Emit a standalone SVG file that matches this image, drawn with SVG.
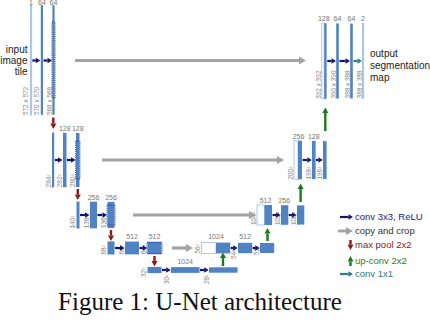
<svg xmlns="http://www.w3.org/2000/svg" width="430" height="320" viewBox="0 0 430 320">
<defs>
<style>
.b{fill:#4f83c4;}
.w{fill:#ffffff;stroke:#9dbbe3;stroke-width:0.8;}
.t{fill:#c9daf0;stroke:#8daed9;stroke-width:0.6;}
.crop{fill:none;stroke:#1c3c8c;stroke-width:0.9;stroke-dasharray:1.2 0.9;}
.lbl{font-family:"Liberation Sans",Arial,sans-serif;font-size:7px;fill:#777777;text-anchor:middle;}
.vl{font-family:"Liberation Sans",Arial,sans-serif;font-size:6.4px;fill:#888888;}
.txt{font-family:"Liberation Sans",Arial,sans-serif;font-size:10px;fill:#222222;}
.lg{font-family:"Liberation Sans",Arial,sans-serif;font-size:9.5px;}
.nv{stroke:#141470;stroke-width:2.2;fill:none;marker-end:url(#aN);}
.gr{stroke:#a3a3a3;stroke-width:3.2;fill:none;marker-end:url(#aG);}
.rd{stroke:#8b1a1a;stroke-width:2.4;fill:none;marker-end:url(#aR);}
.gn{stroke:#1b7a1b;stroke-width:2.4;fill:none;marker-end:url(#aE);}
.tl{stroke:#2a8080;stroke-width:2.2;fill:none;marker-end:url(#aT);}
</style>
<marker id="aN" markerUnits="userSpaceOnUse" markerWidth="6" markerHeight="6" refX="0" refY="2.75" orient="auto" overflow="visible"><path d="M0,0 L4.5,2.75 L0,5.5 Z" fill="#141470"/></marker>
<marker id="aT" markerUnits="userSpaceOnUse" markerWidth="6" markerHeight="6" refX="0" refY="2.75" orient="auto" overflow="visible"><path d="M0,0 L4.5,2.75 L0,5.5 Z" fill="#2a8080"/></marker>
<marker id="aG" markerUnits="userSpaceOnUse" markerWidth="8" markerHeight="8" refX="0" refY="4" orient="auto" overflow="visible"><path d="M0,0 L7,4 L0,8 Z" fill="#a3a3a3"/></marker>
<marker id="aR" markerUnits="userSpaceOnUse" markerWidth="6" markerHeight="6" refX="0" refY="3" orient="auto" overflow="visible"><path d="M0,0 L5.5,3 L0,6 Z" fill="#8b1a1a"/></marker>
<marker id="aE" markerUnits="userSpaceOnUse" markerWidth="6" markerHeight="6" refX="0" refY="3" orient="auto" overflow="visible"><path d="M0,0 L5.5,3 L0,6 Z" fill="#1b7a1b"/></marker>
</defs>
<rect x="0" y="0" width="430" height="320" fill="#ffffff"/>

<!-- Level 1 contracting -->
<g id="m1_1"><rect class="t" x="30.3" y="5" width="1.5" height="110"/><text class="lbl" x="31" y="4.5">1</text><text class="vl" transform="translate(28,115) rotate(-90)">572 x 572</text></g>
<g id="m1_2"><rect class="b" x="40.8" y="5.1" width="2.2" height="109.8"/><text class="lbl" x="41.9" y="4.5">64</text><text class="vl" transform="translate(39.3,115) rotate(-90)">570 x 570</text></g>
<g id="m1_3"><rect class="b" x="52.4" y="5.2" width="2.2" height="109.6"/><rect class="crop" x="52" y="22" width="3" height="76"/><text class="lbl" x="53.5" y="4.5">64</text><text class="vl" transform="translate(51.5,115) rotate(-90)">568 x 568</text></g>

<!-- Level 2 contracting -->
<g id="m2_1"><rect class="b" x="52" y="132.6" width="2.2" height="54.8"/><text class="vl" transform="translate(50.5,187.4) rotate(-90)">284²</text></g>
<g id="m2_2"><rect class="b" x="63" y="132.8" width="3.5" height="54.4"/><text class="lbl" x="64.8" y="130.5">128</text><text class="vl" transform="translate(62.3,187.2) rotate(-90)">282²</text></g>
<g id="m2_3"><rect class="b" x="76" y="133" width="3.5" height="54"/><rect class="crop" x="75.6" y="141" width="4.3" height="38"/><text class="lbl" x="77.8" y="130.5">128</text><text class="vl" transform="translate(74.5,187) rotate(-90)">280²</text></g>

<!-- Level 3 contracting -->
<g id="m3_1"><rect class="b" x="76.5" y="201.5" width="3" height="27"/><text class="vl" transform="translate(75.3,228.5) rotate(-90)">140²</text></g>
<g id="m3_2"><rect class="b" x="90" y="201.7" width="7" height="26.6"/><text class="lbl" x="93.5" y="200">256</text><text class="vl" transform="translate(89,228.3) rotate(-90)">138²</text></g>
<g id="m3_3"><rect class="b" x="107.5" y="201.9" width="7" height="26.2"/><rect class="crop" x="107" y="205" width="8" height="20.2"/><text class="lbl" x="111" y="200">256</text><text class="vl" transform="translate(106.3,228) rotate(-90)">136²</text></g>

<!-- Level 4 contracting -->
<g id="m4_1"><rect class="b" x="107.5" y="241.4" width="7" height="13.1"/><text class="vl" transform="translate(106,254.5) rotate(-90)">68²</text></g>
<g id="m4_2"><rect class="b" x="125" y="241.6" width="14" height="12.8"/><text class="lbl" x="132" y="238.5">512</text><text class="vl" transform="translate(124,254.4) rotate(-90)">66²</text></g>
<g id="m4_3"><rect class="b" x="147.5" y="241.8" width="14" height="12.4"/><rect class="crop" x="147" y="242.4" width="15" height="11.2"/><text class="lbl" x="154.5" y="238.5">512</text><text class="vl" transform="translate(146.3,254.2) rotate(-90)">64²</text></g>

<!-- Level 5 bottom -->
<g id="m5_1"><rect class="b" x="147.5" y="266.9" width="14" height="6.2"/><text class="vl" transform="translate(145.5,277) rotate(-90)">32²</text></g>
<g id="m5_2"><rect class="b" x="171" y="267.1" width="28.5" height="5.8"/><text class="lbl" x="185.2" y="264">1024</text><text class="vl" transform="translate(168.5,284) rotate(-90)">30²</text></g>
<g id="m5_3"><rect class="b" x="209" y="267.3" width="28.5" height="5.4"/><text class="vl" transform="translate(208.5,284) rotate(-90)">28²</text></g>

<!-- Level 4 expanding -->
<g id="m4r_1"><rect class="w" x="201.5" y="242.6" width="14.5" height="10.8"/><rect class="b" x="216" y="242.6" width="14.2" height="10.8"/><text class="lbl" x="216" y="239">1024</text><text class="vl" transform="translate(200.3,253.5) rotate(-90)">56²</text></g>
<g id="m4r_2"><rect class="b" x="238" y="242.8" width="14.2" height="10.4"/><text class="lbl" x="245" y="239">512</text><text class="vl" transform="translate(236,259) rotate(-90)">54²</text></g>
<g id="m4r_3"><rect class="b" x="260" y="243" width="14.2" height="10"/><text class="vl" transform="translate(259.3,255) rotate(-90)">52²</text></g>

<!-- Level 3 expanding -->
<g id="m3r_1"><rect class="w" x="257" y="205" width="7.5" height="20"/><rect class="b" x="264.5" y="205" width="7.5" height="20"/><text class="lbl" x="265.5" y="202.8">512</text><text class="vl" transform="translate(256.3,225) rotate(-90)">104²</text></g>
<g id="m3r_2"><rect class="b" x="281" y="205.2" width="7.3" height="19.6"/><text class="lbl" x="284.3" y="202.8">256</text><text class="vl" transform="translate(279.6,225) rotate(-90)">102²</text></g>
<g id="m3r_3"><rect class="b" x="297" y="205.4" width="7.3" height="19.2"/><text class="vl" transform="translate(295.8,225) rotate(-90)">100²</text></g>

<!-- Level 2 expanding -->
<g id="m2r_1"><rect class="w" x="294" y="140.7" width="4" height="38.6"/><rect class="b" x="298" y="140.7" width="4" height="38.6"/><text class="lbl" x="298.5" y="139.3">256</text><text class="vl" transform="translate(292.8,179.5) rotate(-90)">200²</text></g>
<g id="m2r_2"><rect class="b" x="312" y="140.9" width="3.6" height="38.2"/><text class="lbl" x="313.8" y="139.3">128</text><text class="vl" transform="translate(310.8,179.5) rotate(-90)">198²</text></g>
<g id="m2r_3"><rect class="b" x="323" y="141.1" width="3.6" height="37.8"/><text class="vl" transform="translate(322,179.5) rotate(-90)">196²</text></g>

<!-- Level 1 expanding -->
<g id="m1r_1"><rect class="w" x="321.8" y="23.2" width="2.4" height="75.6"/><rect class="b" x="324.2" y="23.2" width="2.4" height="75.6"/><text class="lbl" x="323.8" y="20.5">128</text><text class="vl" transform="translate(321,98.8) rotate(-90)">392 x 392</text></g>
<g id="m1r_2"><rect class="b" x="336.2" y="23.4" width="2.6" height="75.2"/><text class="lbl" x="337.5" y="20.5">64</text><text class="vl" transform="translate(335.5,98.6) rotate(-90)">390 x 390</text></g>
<g id="m1r_3"><rect class="b" x="350.2" y="23.6" width="2.6" height="74.8"/><text class="lbl" x="351.5" y="20.5">64</text><text class="vl" transform="translate(349.6,98.4) rotate(-90)">388 x 388</text></g>
<g id="m1r_4"><rect class="t" x="362.3" y="23.6" width="1.5" height="74.8"/><text class="lbl" x="363" y="20.5">2</text><text class="vl" transform="translate(361.5,98.4) rotate(-90)">388 x 388</text></g>

<!-- input / output labels -->
<g id="input"><text class="txt" text-anchor="end" x="27.5" y="53">input</text><text class="txt" text-anchor="end" x="27.5" y="64">image</text><text class="txt" text-anchor="end" x="27.5" y="75">tile</text></g>
<g id="output"><text class="txt" x="370" y="56.5">output</text><text class="txt" x="370" y="68.5">segmentation</text><text class="txt" x="370" y="80.5">map</text></g>

<!-- connectors -->
<g id="connectors">
<line class="nv" x1="32.3" y1="60.5" x2="35.8" y2="60.5"/>
<line class="nv" x1="43.5" y1="60.5" x2="47.5" y2="60.5"/>
<line class="nv" x1="327.3" y1="61" x2="331.5" y2="61"/>
<line class="nv" x1="339.5" y1="61" x2="345.5" y2="61"/>
<line class="tl" x1="353.5" y1="61" x2="357.5" y2="61"/>
<line class="nv" x1="54.8" y1="160" x2="58" y2="160"/>
<line class="nv" x1="67" y1="160" x2="71" y2="160"/>
<line class="nv" x1="302.6" y1="160" x2="307.3" y2="160"/>
<line class="nv" x1="316" y1="160" x2="318.3" y2="160"/>
<line class="nv" x1="80" y1="215" x2="85" y2="215"/>
<line class="nv" x1="97.5" y1="215" x2="102.5" y2="215"/>
<line class="nv" x1="272.5" y1="215" x2="276.1" y2="215"/>
<line class="nv" x1="288.7" y1="215" x2="292.1" y2="215"/>
<line class="nv" x1="115" y1="248" x2="120" y2="248"/>
<line class="nv" x1="139.5" y1="248" x2="142.7" y2="248"/>
<line class="nv" x1="230.7" y1="248" x2="233.2" y2="248"/>
<line class="nv" x1="252.6" y1="248" x2="255.2" y2="248"/>
<line class="nv" x1="162" y1="270" x2="166.2" y2="270"/>
<line class="nv" x1="200" y1="270" x2="204.2" y2="270"/>
<line class="gr" x1="75" y1="60.5" x2="299" y2="60.5"/>
<line class="gr" x1="102" y1="160" x2="277" y2="160"/>
<line class="gr" x1="133" y1="215" x2="249" y2="215"/>
<line class="gr" x1="172" y1="248" x2="186" y2="248"/>
<line class="rd" x1="53.3" y1="117.5" x2="53.3" y2="123.5"/>
<line class="rd" x1="77.8" y1="189" x2="77.8" y2="194.5"/>
<line class="rd" x1="111" y1="230" x2="111" y2="235.5"/>
<line class="rd" x1="154.5" y1="256" x2="154.5" y2="261"/>
<line class="gn" x1="223" y1="266" x2="223" y2="258"/>
<line class="gn" x1="267.5" y1="241" x2="267.5" y2="233.5"/>
<line class="gn" x1="300.6" y1="202" x2="300.6" y2="189"/>
<line class="gn" x1="325.3" y1="131" x2="325.3" y2="113"/>
</g>

<!-- legend -->
<g id="legend">
<line class="nv" x1="340" y1="217" x2="348.5" y2="217"/>
<text class="lg" x="355" y="220.3" fill="#1a1a80">conv 3x3, ReLU</text>
<line class="gr" x1="338" y1="231" x2="346" y2="231" style="stroke-width:2.8"/>
<text class="lg" x="355" y="234.3" fill="#333333">copy and crop</text>
<line class="rd" x1="350.5" y1="240" x2="350.5" y2="244.5"/>
<text class="lg" x="355" y="248.3" fill="#8b1a1a">max pool 2x2</text>
<line class="gn" x1="350.5" y1="266" x2="350.5" y2="261.5"/>
<text class="lg" x="355" y="264.3" fill="#2e7d2e">up-conv 2x2</text>
<line class="tl" x1="340" y1="274" x2="348.5" y2="274"/>
<text class="lg" x="355" y="277.3" fill="#2a7a7a">conv 1x1</text>
</g>

<text x="200" y="309.5" text-anchor="middle" font-family="'Liberation Serif','Times New Roman',serif" font-size="25" fill="#111111">Figure 1: U-Net architecture</text>
</svg>
